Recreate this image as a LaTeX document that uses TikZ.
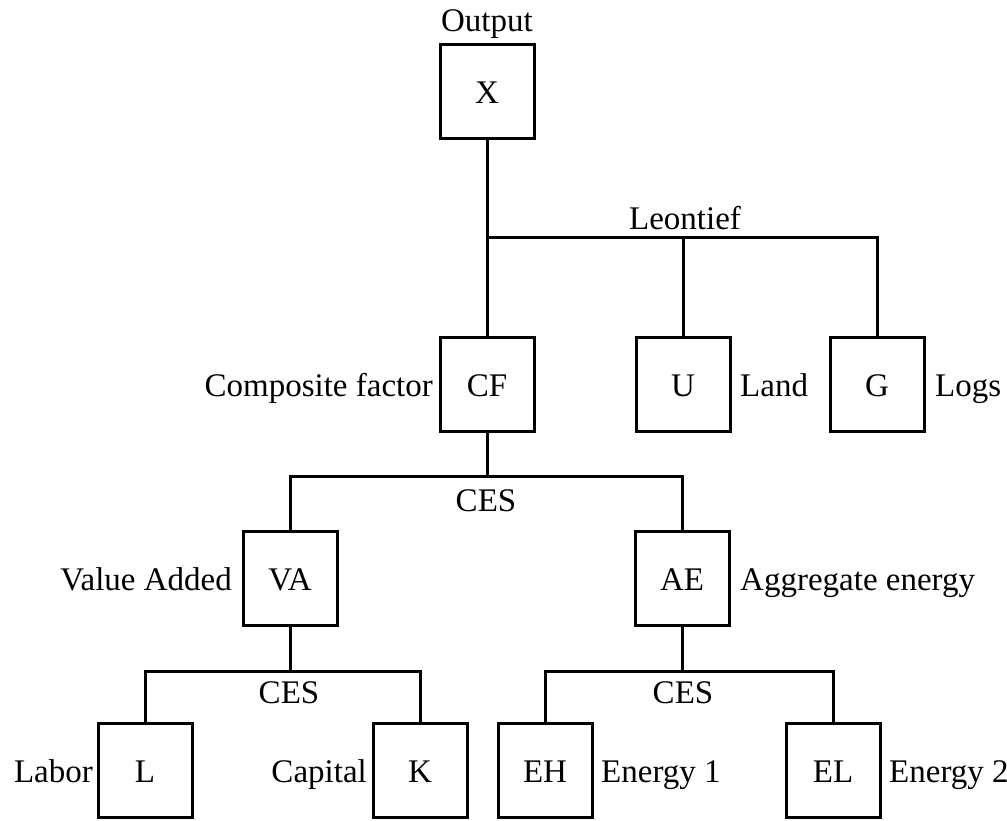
\documentclass[tikz,border=0pt]{standalone}
\usepackage{fontspec}
\setmainfont{Liberation Serif}
\begin{document}
\begin{tikzpicture}[x=1pt,y=-1pt,
  txt/.style={font=\fontsize{33}{38}\selectfont},
  box/.style={draw,line width=3pt,minimum size=94pt,inner sep=0pt,
    text height=24pt,text depth=0pt,txt},
  lbl/.style={inner sep=0pt,txt},
  wire/.style={line width=3pt}]
\useasboundingbox (0,0) rectangle (1007,821);

% boxes
\node[box] (X)  at (487,92)  {X};
\node[box] (CF) at (487,384) {CF};
\node[box] (U)  at (683,384) {U};
\node[box] (G)  at (877,384) {G};
\node[box] (VA) at (290,578) {VA};
\node[box] (AE) at (682,578) {AE};
\node[box] (L)  at (145,770) {L};
\node[box] (K)  at (420,770) {K};
\node[box] (EH) at (545,770) {EH};
\node[box] (EL) at (833,770) {EL};

% levels of the horizontal bars
\coordinate (b1) at (0,238);
\coordinate (b2) at (0,476);
\coordinate (b3) at (0,671);

% Leontief nest
\draw[wire] (X.south) -- (CF.north);
\draw[wire] (CF.north |- b1) -| (G.north);
\draw[wire] (U.north |- b1) -- (U.north);
% CES nest of composite factor
\draw[wire] (CF.south) -- (CF.south |- b2);
\draw[wire] (VA.north) |- (AE.north |- b2) -- (AE.north);
% CES nests of value added and aggregate energy
\draw[wire] (VA.south) -- (VA.south |- b3);
\draw[wire] (L.north) |- (K.north |- b3) -- (K.north);
\draw[wire] (AE.south) -- (AE.south |- b3);
\draw[wire] (EH.north) |- (EL.north |- b3) -- (EL.north);

% nest labels
\node[lbl,anchor=base] (out) at (487,32) {Output};
\node[lbl,anchor=base] (leo) at (685,230) {Leontief};
\node[lbl,anchor=base] (ces1) at (486,511) {CES};
\node[lbl,anchor=base] (ces2) at (289,703) {CES};
\node[lbl,anchor=base] (ces3) at (683,703) {CES};

% side labels
\node[lbl,anchor=base east] (cfl) at (433,396) {Composite factor};
\node[lbl,anchor=base west] (ul)  at (740,396) {Land};
\node[lbl,anchor=base west] (gl)  at (935,396) {Logs};
\node[lbl,anchor=base east] (val) at (232,590) {Value Added};
\node[lbl,anchor=base west] (ael) at (740,590) {Aggregate energy};
\node[lbl,anchor=base east] (ll)  at (93,782) {Labor};
\node[lbl,anchor=base east] (kl)  at (367,782) {Capital};
\node[lbl,anchor=base west] (ehl) at (601,782) {Energy 1};
\node[lbl,anchor=base west] (ell) at (889,782) {Energy 2};
\end{tikzpicture}
\end{document}
